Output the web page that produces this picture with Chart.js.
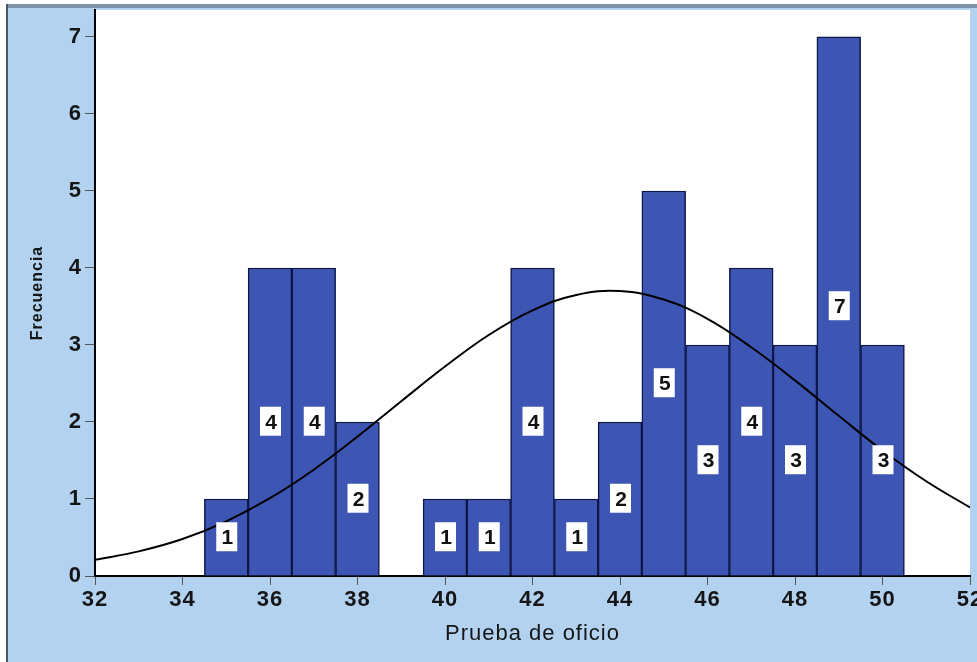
<!DOCTYPE html>
<html>
<head>
<meta charset="utf-8">
<script src="https://cdn.jsdelivr.net/npm/chart.js@4.4.1/dist/chart.umd.min.js"></script>
<style>
  html, body { margin: 0; padding: 0; background: #ffffff; }
  #wrap { width: 977px; height: 662px; }
</style>
</head>
<body>
<div id="wrap"><canvas id="hist" width="977" height="662"></canvas></div>
<script>
// Histogram of "Prueba de oficio" (bin centres and counts)
const binCenters = [35, 36, 37, 38, 39, 40, 41, 42, 43, 44, 45, 46, 47, 48, 49, 50];
const frequencies = [1, 4, 4, 2, 0, 1, 1, 4, 1, 2, 5, 3, 4, 3, 7, 3];

// Normal curve
const curveX = [32, 33, 34, 35, 36, 37, 38, 39, 40, 41, 42, 43, 44, 45, 46, 47, 48, 49, 50, 51, 52];
const curveY = [0.21, 0.32, 0.48, 0.71, 1.01, 1.38, 1.81, 2.27, 2.72, 3.13, 3.45, 3.65, 3.70, 3.59, 3.34, 2.97, 2.54, 2.08, 1.63, 1.23, 0.89];

const xTicks = [32, 34, 36, 38, 40, 42, 44, 46, 48, 50, 52];
const yTicks = [0, 1, 2, 3, 4, 5, 6, 7];

const FONT = '"Liberation Sans", Arial, sans-serif';

const barData = binCenters
  .map((x, i) => ({ x: x, y: frequencies[i] }))
  .filter(p => p.y > 0);
const curveData = curveX.map((x, i) => ({ x: x, y: curveY[i] }));

// light blue frame + white plot area
const framePlugin = {
  id: 'frame',
  beforeDraw(chart) {
    const { ctx, chartArea: a, width, height } = chart;
    ctx.save();
    ctx.fillStyle = '#ffffff';
    ctx.fillRect(0, 0, width, height);
    ctx.fillStyle = '#b2d2f0';
    ctx.fillRect(7, 5, width - 7, height - 5);
    ctx.fillStyle = '#7f94ab';
    ctx.fillRect(7, 4, width - 7, 4);
    ctx.fillStyle = '#4a5563';
    ctx.fillRect(6, 4, 2, height - 4);
    ctx.fillStyle = '#ffffff';
    ctx.fillRect(a.left, a.top, a.right - a.left, a.bottom - a.top);
    ctx.restore();
    ctx.letterSpacing = '1px';
  }
};

// white boxes with the count in the middle of each bar
const countLabels = {
  id: 'countLabels',
  afterDatasetsDraw(chart) {
    const { ctx } = chart;
    const meta = chart.getDatasetMeta(0);
    const ds = chart.data.datasets[0];
    ctx.save();
    ctx.letterSpacing = '0px';
    ctx.font = 'bold 21px ' + FONT;
    ctx.textAlign = 'center';
    ctx.textBaseline = 'middle';
    meta.data.forEach((bar, i) => {
      const v = ds.data[i].y;
      const cy = (bar.y + bar.base) / 2;
      ctx.fillStyle = '#ffffff';
      ctx.fillRect(bar.x - 10, cy - 15, 21, 29);
      ctx.fillStyle = '#111111';
      ctx.fillText(String(v), bar.x + 1, cy + 1);
    });
    ctx.restore();
  }
};

new Chart(document.getElementById('hist'), {
  type: 'bar',
  data: {
    datasets: [
      {
        type: 'bar',
        data: barData,
        backgroundColor: '#3d55b3',
        borderColor: '#0e1748',
        borderWidth: 1.5,
        borderSkipped: 'start',
        barPercentage: 1,
        categoryPercentage: 1,
        order: 2
      },
      {
        type: 'line',
        data: curveData,
        borderColor: '#000000',
        borderWidth: 2,
        pointRadius: 0,
        tension: 0.4,
        fill: false,
        order: 1
      }
    ]
  },
  options: {
    responsive: false,
    animation: false,
    events: [],
    layout: { padding: { left: 0, right: 7, top: 10, bottom: 0 } },
    plugins: {
      legend: { display: false },
      tooltip: { enabled: false }
    },
    scales: {
      x: {
        type: 'linear',
        min: 32,
        max: 52,
        offset: false,
        afterBuildTicks(scale) { scale.ticks = xTicks.map(v => ({ value: v })); },
        afterFit(scale) { scale.height = 86; scale.paddingLeft = 0; scale.paddingRight = 0; },
        grid: { display: true, offset: false, drawOnChartArea: false, drawTicks: true, tickLength: 9, tickColor: '#555555', tickWidth: 1 },
        border: { display: true, color: '#000000', width: 2 },
        ticks: { color: '#151515', padding: 2, maxRotation: 0, autoSkip: false, font: { family: FONT, size: 22, weight: 'bold' } },
        title: { display: true, text: 'Prueba de oficio', color: '#151515', padding: { top: 0, bottom: 15 }, font: { family: FONT, size: 22, weight: 'normal' } }
      },
      y: {
        min: 0,
        max: 7.35,
        afterBuildTicks(scale) { scale.ticks = yTicks.map(v => ({ value: v })); },
        afterFit(scale) { scale.width = 95; scale.paddingTop = 0; scale.paddingBottom = 0; },
        grid: { display: true, drawOnChartArea: false, drawTicks: true, tickLength: 10, tickColor: '#555555', tickWidth: 1 },
        border: { display: true, color: '#000000', width: 2 },
        ticks: { color: '#151515', padding: 3, font: { family: FONT, size: 22, weight: 'bold' } },
        title: { display: true, text: 'Frecuencia', color: '#151515', padding: { top: 28, bottom: 0 }, font: { family: FONT, size: 16, weight: 'bold' } }
      }
    }
  },
  plugins: [framePlugin, countLabels]
});
</script>
</body>
</html>
